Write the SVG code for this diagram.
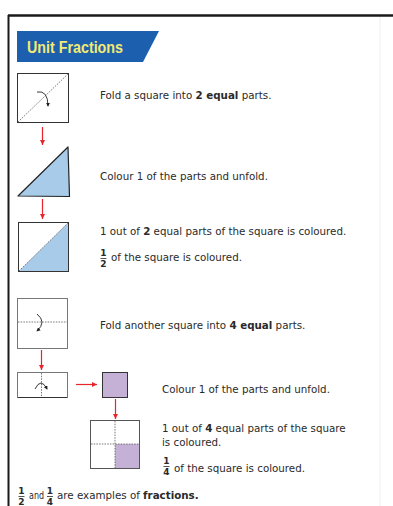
<svg xmlns="http://www.w3.org/2000/svg" width="393" height="506" viewBox="0 0 393 506">
<defs>
<marker id="ar" viewBox="0 0 10 10" refX="10" refY="5" markerWidth="5" markerHeight="5" orient="auto" markerUnits="userSpaceOnUse"><path d="M0,0 L10,5 L0,10 z" fill="#e8262a"/></marker>
<marker id="ak" viewBox="0 0 10 10" refX="8" refY="5" markerWidth="4" markerHeight="4" orient="auto" markerUnits="userSpaceOnUse"><path d="M0,0 L10,5 L0,10 z" fill="#222"/></marker>
</defs>
<style>
text{font-family:"DejaVu Sans","Liberation Sans",Arial,sans-serif;font-size:10.3px;fill:#2a2a2a}
.b{font-weight:bold}
.fr{font-size:9px;font-weight:bold;text-anchor:middle}
.sq{fill:#fff;stroke:#333;stroke-width:1}
.gs{fill:#fff;stroke:#777;stroke-width:1}
.dash{stroke:#555;stroke-width:0.8;stroke-dasharray:1.5,1.2;fill:none}
.curl{fill:none;stroke:#222;stroke-width:0.9;marker-end:url(#ak)}
.con{stroke:#e8262a;stroke-width:1.2;fill:none;marker-end:url(#ar)}
.blue{fill:#a9cbea}
.purple{fill:#c5b0d6}
.fl{stroke:#2a2a2a;stroke-width:0.8}
</style>
<rect width="393" height="506" fill="#fff"/>
<line x1="380" y1="16" x2="380" y2="506" stroke="#eeeeee" stroke-width="1"/>
<line x1="8" y1="15.5" x2="393" y2="15.5" stroke="#1a1a1a" stroke-width="2.5"/>
<line x1="8.5" y1="15" x2="8.5" y2="506" stroke="#1a1a1a" stroke-width="2"/>

<g id="title">
<polygon points="17,31 159,31 143,62 17,62" fill="#1b5fae"/>
<text x="27" y="53" class="b" style="font-family:'Liberation Sans',Arial,sans-serif;font-size:16px;fill:#f3ea72" textLength="96" lengthAdjust="spacingAndGlyphs">Unit Fractions</text>
</g>

<g id="square1">
<rect class="sq" x="17.5" y="73.5" width="51" height="49"/>
<line class="dash" x1="18" y1="122" x2="68" y2="74"/>
<path class="curl" d="M37,92 Q48,90 48,106"/>
</g>
<g id="text1"><text x="100" y="99">Fold a square into <tspan class="b">2 equal</tspan> parts.</text></g>

<g id="triangle">
<polygon points="18,196 68,147 69.5,196.5" class="blue" stroke="#222" stroke-width="1.2" stroke-linejoin="round"/>
</g>
<g id="text2"><text x="100" y="180">Colour 1 of the parts and unfold.</text></g>

<g id="square2">
<rect class="sq" x="18.5" y="222.5" width="50" height="49"/>
<polygon class="blue" points="19,271 68,223 68,271"/>
<line class="dash" x1="19" y1="271" x2="68" y2="223"/>
<rect x="18.5" y="222.5" width="50" height="49" fill="none" stroke="#333" stroke-width="1"/>
</g>
<g id="text3">
<text x="100" y="235">1 out of <tspan class="b">2</tspan> equal parts of the square is coloured.</text>
<text class="fr" x="103.5" y="256">1</text>
<line class="fl" x1="100.5" y1="258.5" x2="106.5" y2="258.5"/>
<text class="fr" x="103.5" y="266.5">2</text>
<text x="111" y="261">of the square is coloured.</text>
</g>

<g id="square3">
<rect class="gs" x="17.5" y="298.5" width="50" height="50"/>
<line class="dash" x1="18" y1="322" x2="67" y2="322"/>
<path class="curl" d="M37,314 Q47,322 37,331"/>
</g>
<g id="text4"><text x="100" y="329">Fold another square into <tspan class="b">4 equal</tspan> parts.</text></g>

<g id="rect4">
<rect class="gs" x="17.5" y="372.5" width="50" height="25"/>
<line x1="18" y1="397.5" x2="67" y2="397.5" stroke="#333" stroke-width="1.2"/>
<line class="dash" x1="41.5" y1="373" x2="41.5" y2="397"/>
<path class="curl" d="M35,389 Q41,377 47,389"/>
</g>

<g id="purple">
<rect class="purple" x="102.5" y="372.5" width="25" height="25" stroke="#333" stroke-width="1"/>
</g>
<g id="text5"><text x="162" y="393">Colour 1 of the parts and unfold.</text></g>

<g id="square5">
<rect class="gs" x="90.5" y="420.5" width="49" height="48"/>
<rect class="purple" x="115" y="444" width="24" height="24"/>
<line class="dash" x1="115" y1="421" x2="115" y2="468"/>
<line class="dash" x1="91" y1="444" x2="139" y2="444"/>
<rect x="90.5" y="420.5" width="49" height="48" fill="none" stroke="#555" stroke-width="1"/>
</g>
<g id="text6">
<text x="162" y="432">1 out of <tspan class="b">4</tspan> equal parts of the square</text>
<text x="162" y="446">is coloured.</text>
<text class="fr" x="166.5" y="464">1</text>
<line class="fl" x1="163.5" y1="466.5" x2="169.5" y2="466.5"/>
<text class="fr" x="166.5" y="474.5">4</text>
<text x="174" y="472">of the square is coloured.</text>
</g>

<g id="summary">
<text class="fr" x="21.5" y="494">1</text>
<line class="fl" x1="18.5" y1="496.5" x2="24.5" y2="496.5"/>
<text class="fr" x="21.5" y="504.5">2</text>
<text x="29" y="499" textLength="15" lengthAdjust="spacingAndGlyphs">and</text>
<text class="fr" x="50" y="494">1</text>
<line class="fl" x1="47" y1="496.5" x2="53" y2="496.5"/>
<text class="fr" x="50" y="504.5">4</text>
<text x="57" y="499">are examples of <tspan class="b">fractions.</tspan></text>
</g>

<g id="connectors">
<line class="con" x1="42.5" y1="127" x2="42.5" y2="145"/>
<line class="con" x1="42.5" y1="199" x2="42.5" y2="219"/>
<line class="con" x1="41.5" y1="350" x2="41.5" y2="370"/>
<line class="con" x1="76" y1="384.5" x2="97" y2="384.5"/>
<line class="con" x1="115.5" y1="399" x2="115.5" y2="419"/>
</g>
</svg>
